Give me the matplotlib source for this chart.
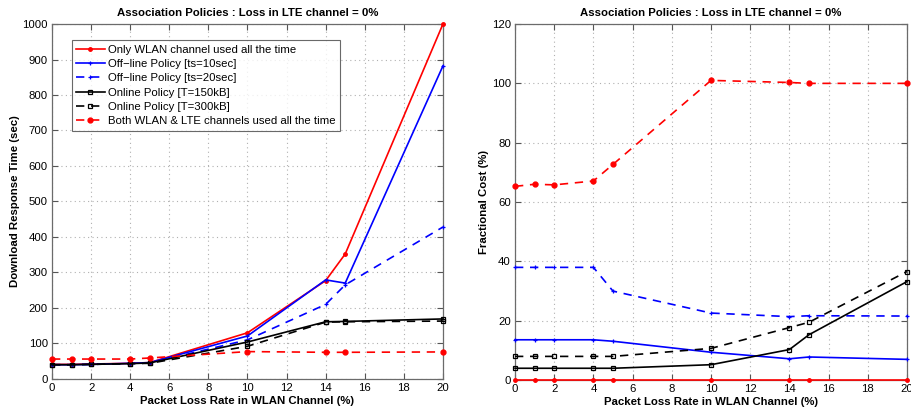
import matplotlib
matplotlib.use("Agg")
import matplotlib.pyplot as plt

plt.rcParams['font.family'] = ['Liberation Sans', 'DejaVu Sans']

x = [0, 1, 2, 4, 5, 10, 14, 15, 20]

# Left: Download response time (sec)
resp_wlan_only = [41, 41, 42, 44, 46, 130, 277, 352, 1000]
resp_off10 = [40, 40, 41, 44, 46, 121, 279, 270, 882]
resp_off20 = [40, 40, 41, 43, 45, 110, 210, 265, 428]
resp_on150 = [40, 40, 41, 43, 45, 104, 161, 162, 169]
resp_on300 = [40, 40, 41, 43, 44, 92, 160, 161, 163]
resp_both = [56, 56, 56, 56, 59, 77, 75, 75, 76]

# Right: Fractional cost (%)
cost_wlan_only = [0, 0, 0, 0, 0, 0, 0, 0, 0]
cost_off10 = [13.6, 13.6, 13.6, 13.6, 13.1, 9.4, 7.2, 7.8, 7.0]
cost_off20 = [38.0, 38.0, 38.0, 38.0, 30.0, 22.6, 21.4, 21.7, 21.6]
cost_on150 = [4.0, 4.0, 4.0, 4.0, 4.0, 5.2, 10.3, 15.3, 33.2]
cost_on300 = [8.0, 8.0, 8.0, 8.0, 8.0, 10.7, 17.7, 19.5, 36.6]
cost_both = [65.3, 66.0, 65.8, 67.1, 72.7, 101.0, 100.3, 100.0, 100.0]

labels = ["Only WLAN channel used all the time",
          "Off\u2212line Policy [ts=10sec]",
          "Off\u2212line Policy [ts=20sec]",
          "Online Policy [T=150kB]",
          "Online Policy [T=300kB]",
          "Both WLAN & LTE channels used all the time"]

xticks = [0, 2, 4, 6, 8, 10, 12, 14, 16, 18, 20]
title = "Association Policies : Loss in LTE channel = 0%"
xlabel = "Packet Loss Rate in WLAN Channel (%)"

FS = 8.2

fig = plt.figure(figsize=(9.12, 4.07), dpi=100)
ax1 = fig.add_axes([0.057, 0.069, 0.4287, 0.872])
ax2 = fig.add_axes([0.5647, 0.066, 0.4298, 0.875])

styles = [
    dict(color='red', ls='-', marker='.', ms=5, lw=1.2),
    dict(color='blue', ls='-', marker='+', ms=3, mew=0.9, lw=1.2),
    dict(color='blue', ls=(0, (5, 4)), marker='+', ms=3, mew=0.9, lw=1.2),
    dict(color='black', ls='-', marker='s', ms=3.5, mfc='none', mew=0.9, lw=1.2),
    dict(color='black', ls=(0, (5, 4)), marker='s', ms=3.5, mfc='none', mew=0.9, lw=1.2),
    dict(color='red', ls=(0, (5, 4)), marker='.', ms=7, lw=1.2),
]

left_series = [resp_wlan_only, resp_off10, resp_off20, resp_on150, resp_on300, resp_both]
right_series = [cost_wlan_only, cost_off10, cost_off20, cost_on150, cost_on300, cost_both]

for ax, series in ((ax1, left_series), (ax2, right_series)):
    for s, st, lab in zip(series, styles, labels):
        ax.plot(x, s, label=lab, clip_on=False, zorder=3, **st)
    ax.set_xlim(0, 20)
    ax.set_xticks(xticks)
    ax.grid(True, ls=(0, (1, 3)), color='#b0b0b0', lw=0.8)
    ax.tick_params(direction='in', length=4, labelsize=FS, color='#555555',
                   top=True, right=True, pad=3)
    for sp in ax.spines.values():
        sp.set_color('#6b6b6b')
        sp.set_linewidth(0.9)
    ax.set_title(title, fontsize=FS, fontweight='bold', pad=6)
    ax.set_xlabel(xlabel, fontsize=FS, fontweight='bold', labelpad=2)

ax1.set_ylim(0, 1000)
ax1.set_yticks(range(0, 1001, 100))
ax1.set_ylabel("Download Response Time (sec)", fontsize=FS, fontweight='bold', labelpad=2)
ax2.set_ylim(0, 120)
ax2.set_yticks(range(0, 121, 20))
ax2.set_ylabel("Fractional Cost (%)", fontsize=FS, fontweight='bold', labelpad=2)

leg = ax1.legend(loc='upper left', bbox_to_anchor=(0.05, 0.955), fontsize=FS,
                 frameon=True, fancybox=False, edgecolor='#444444',
                 borderpad=0.4, labelspacing=0.38, handlelength=2.5,
                 handletextpad=0.3, borderaxespad=0)
leg.get_frame().set_linewidth(0.8)

fig.savefig("out.png", dpi=100)
